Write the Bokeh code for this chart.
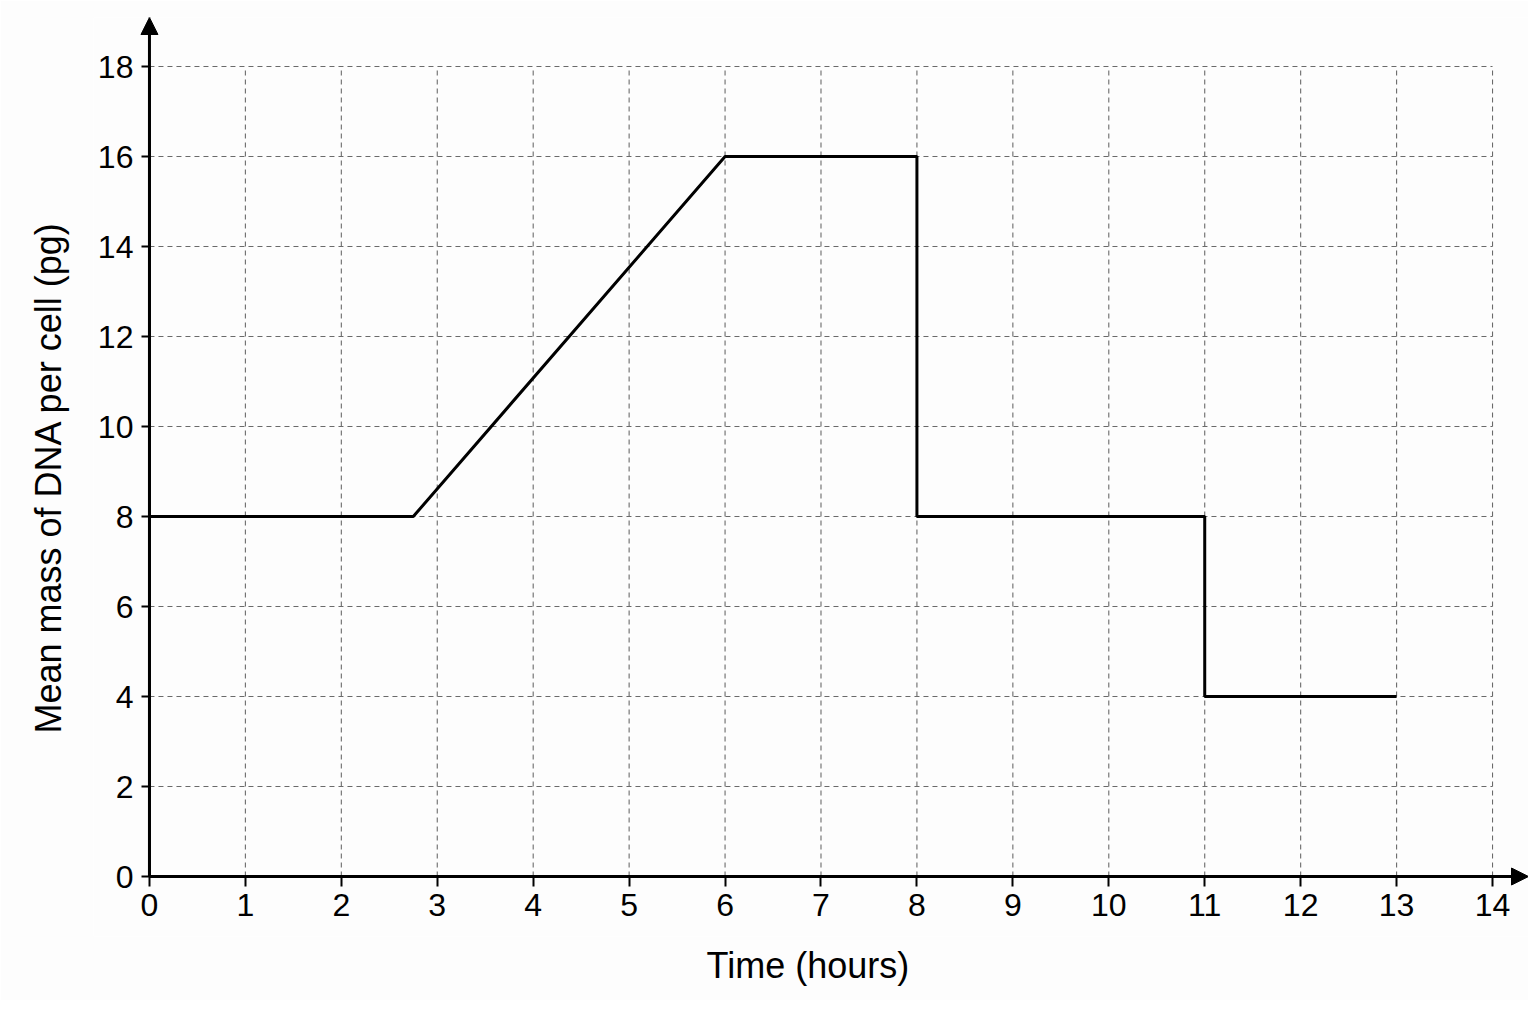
from bokeh.plotting import figure
from bokeh.models import Range1d, Arrow, NormalHead, FixedTicker, Title
from bokeh.embed import file_html
from bokeh.resources import INLINE

# Data
time_hours = [0, 2.75, 6, 8, 8, 11, 11, 13]
dna_mass_pg = [8, 8, 16, 16, 8, 8, 4, 4]

x_ticks = list(range(0, 15))
y_ticks = list(range(0, 19, 2))

x_title = "Time (hours)"
y_title = "Mean mass of DNA per cell (pg)"

x_start, x_end = -0.5833, 14.375
y_start, y_end = -1.333, 19.09

p = figure(width=1528, height=1000, output_backend="svg", toolbar_location=None,
           x_range=Range1d(x_start, x_end), y_range=Range1d(y_start, y_end),
           min_border_left=92, min_border_right=0, min_border_top=17, min_border_bottom=64)
p.outline_line_color = None
p.background_fill_color = "#fdfdfd"
p.border_fill_color = "#fdfdfd"
p.xgrid.visible = False
p.ygrid.visible = False

# dashed grid limited to the tick extent
gx = [t for t in x_ticks if t > 0]
gy = [t for t in y_ticks if t > 0]
p.segment(x0=gx, y0=[y_ticks[0]] * len(gx), x1=gx, y1=[y_ticks[-1]] * len(gx),
          line_color="#6a6a6a", line_width=1.1, line_dash="5 4")
p.segment(x0=[x_ticks[0]] * len(gy), y0=gy, x1=[x_ticks[-1]] * len(gy), y1=gy,
          line_color="#6a6a6a", line_width=1.1, line_dash="5 4")

# data line
p.line(time_hours, dna_mass_pg, line_color="black", line_width=3)

# axes crossing at the origin
for ax, ticks in ((p.xaxis, x_ticks), (p.yaxis, y_ticks)):
    ax.fixed_location = 0
    ax.ticker = FixedTicker(ticks=ticks)
    ax.bounds = (ticks[0], ticks[-1])
    ax.axis_line_width = 3
    ax.axis_line_color = "black"
    ax.major_tick_line_width = 2
    ax.major_tick_line_color = "black"
    ax.major_tick_in = 0
    ax.minor_tick_line_color = None
    ax.major_label_text_font = "Liberation Sans"
    ax.major_label_text_font_size = "32px"
    ax.major_label_text_color = "black"

p.xaxis.major_tick_out = 10
p.yaxis.major_tick_out = 8
p.xaxis.major_label_standoff = 7
p.yaxis.major_label_standoff = 8

p.add_layout(Title(text=x_title, align="left", offset=613, standoff=13,
                   text_font="Liberation Sans", text_font_size="36px",
                   text_font_style="normal", text_color="black"), "below")
p.add_layout(Title(text=y_title, align="left", offset=203, standoff=50,
                   text_font="Liberation Sans", text_font_size="36px",
                   text_font_style="normal", text_color="black"), "left")

p.add_layout(Arrow(x_start=0, y_start=0, x_end=x_end, y_end=0, line_width=3, line_color="black",
                   end=NormalHead(size=17, fill_color="black", line_color="black")))
p.add_layout(Arrow(x_start=0, y_start=0, x_end=0, y_end=y_end, line_width=3, line_color="black",
                   end=NormalHead(size=17, fill_color="black", line_color="black")))

open("out.html", "w").write(file_html(p, INLINE))
